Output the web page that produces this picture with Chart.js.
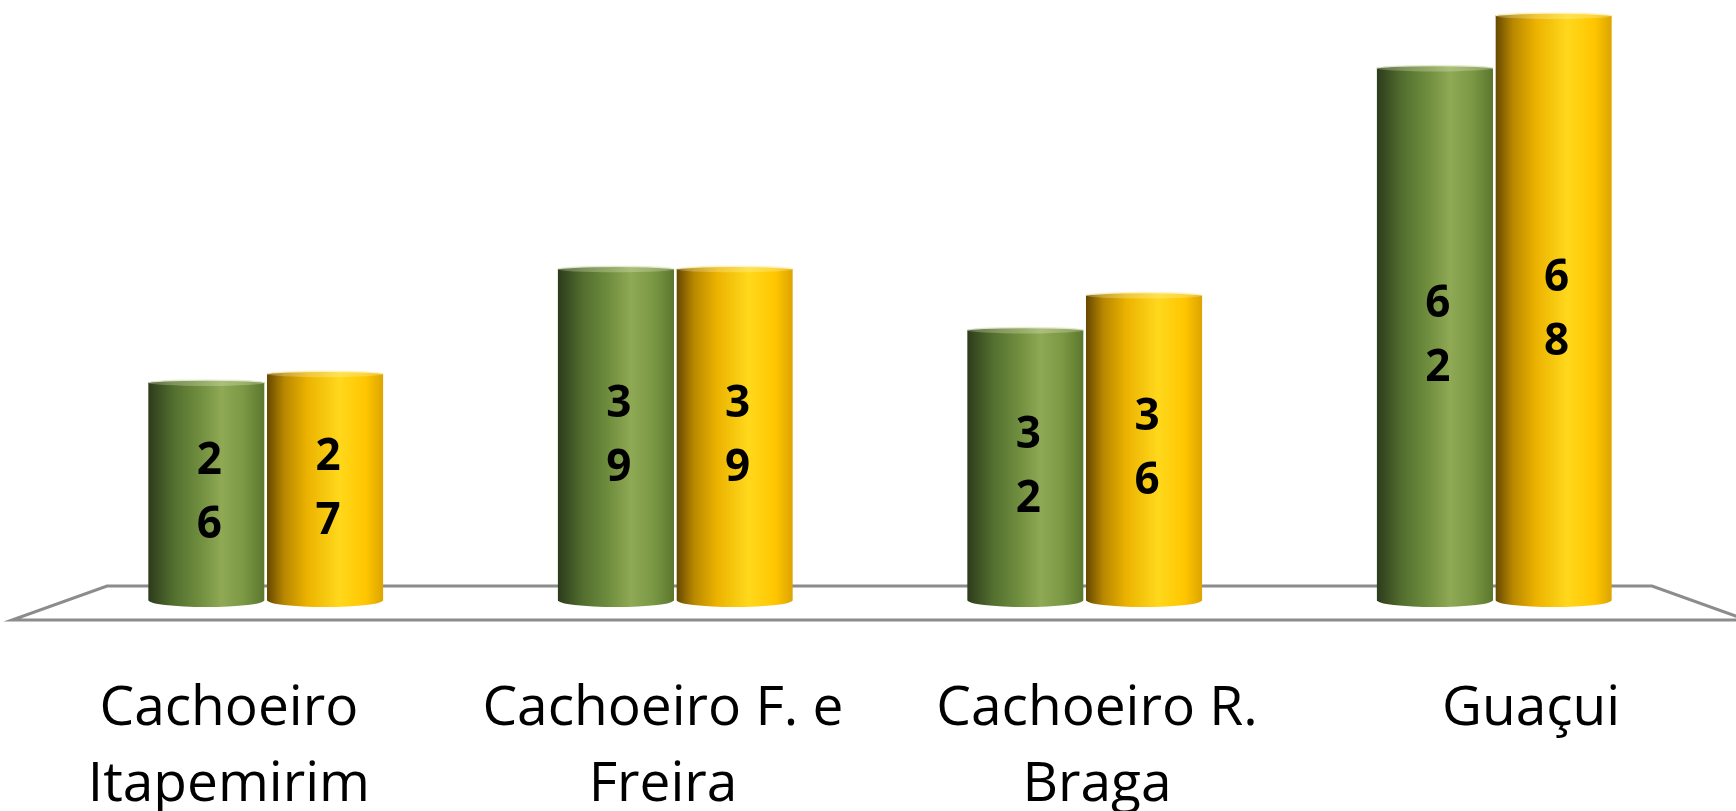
<!DOCTYPE html>
<html>
<head>
<meta charset="utf-8">
<script src="https://cdn.jsdelivr.net/npm/chart.js@4.4.0/dist/chart.umd.min.js"></script>
<style>
html,body{margin:0;padding:0;background:#fff;}
#wrap{width:1736px;height:811px;}
</style>
</head>
<body>
<div id="wrap"><canvas id="chart"></canvas></div>
<script>
const categories=[["Cachoeiro","Itapemirim"],["Cachoeiro F. e","Freira"],["Cachoeiro R.","Braga"],["Guaçui"]];
const seriesGreen=[26,39,32,62];
const seriesGold=[27,39,36,68];
const yMax=68;

const greenStops=[[0,"#2c3b1b"],[0.22,"#536f2f"],[0.45,"#718f3f"],[0.63,"#8fa955"],[0.82,"#7b9844"],[1,"#5b772d"]];
const goldStops=[[0,"#654700"],[0.15,"#b88800"],[0.35,"#ecb300"],[0.62,"#ffd81c"],[0.85,"#ffc600"],[1,"#dca400"]];
const RY_TOP=3,RY_BOT=7;

function grad(ctx,el,stops){
  const g=ctx.createLinearGradient(el.x-el.width/2,0,el.x+el.width/2,0);
  stops.forEach(s=>g.addColorStop(s[0],s[1]));
  return g;
}

function cylPath(ctx,el){
  const rx=el.width/2,l=el.x-rx,r=el.x+rx;
  const top=el.y+RY_TOP,bot=el.base-RY_BOT;
  ctx.moveTo(l,top);
  ctx.ellipse(el.x,top,rx,RY_TOP,0,Math.PI,2*Math.PI,false);
  ctx.lineTo(r,bot);
  ctx.ellipse(el.x,bot,rx,RY_BOT,0,0,Math.PI,false);
  ctx.closePath();
}

const cylinders={
  id:"cylinders",
  beforeDatasetsDraw(chart){
    // floor plane
    const ctx=chart.ctx,a=chart.chartArea;
    const yb=a.bottom-21,yf=a.bottom+13;
    ctx.save();
    ctx.beginPath();
    ctx.moveTo(a.left+46,yb);
    ctx.lineTo(a.right-47,yb);
    ctx.lineTo(a.right+48,yf);
    ctx.lineTo(a.left-49,yf);
    ctx.closePath();
    ctx.strokeStyle="#8c8c8c";
    ctx.lineWidth=3;
    ctx.lineJoin="miter";
    ctx.stroke();
    ctx.restore();
  },
  beforeDatasetDraw(chart,args){
    const ctx=chart.ctx,stops=args.index===0?greenStops:goldStops;
    ctx.save();
    ctx.beginPath();
    args.meta.data.forEach(el=>{
      el.options.backgroundColor=grad(ctx,el,stops);
      cylPath(ctx,el);
    });
    ctx.clip();
  },
  afterDatasetDraw(chart,args){
    const ctx=chart.ctx,stops=args.index===0?greenStops:goldStops;
    ctx.restore();
    args.meta.data.forEach(el=>{
      const rx=el.width/2,cy=el.y+RY_TOP;
      ctx.save();
      ctx.beginPath();
      ctx.ellipse(el.x,cy,rx,RY_TOP,0,0,2*Math.PI);
      ctx.fillStyle=grad(ctx,el,stops);
      ctx.fill();
      ctx.fillStyle="rgba(255,255,235,0.25)";
      ctx.fill();
      ctx.beginPath();
      ctx.ellipse(el.x,cy,rx-0.5,RY_TOP,0,Math.PI,2*Math.PI,false);
      ctx.strokeStyle=args.index===0?"rgba(235,240,215,0.9)":"rgba(255,245,200,0.9)";
      ctx.lineWidth=1.5;
      ctx.stroke();
      ctx.restore();
    });
  },
  afterDatasetsDraw(chart){
    // value labels, one digit per line
    const ctx=chart.ctx;
    ctx.save();
    ctx.font="bold 44px 'Open Sans'";
    ctx.fillStyle="#000";
    ctx.textAlign="center";
    ctx.textBaseline="middle";
    chart.data.datasets.forEach((ds,i)=>{
      chart.getDatasetMeta(i).data.forEach((el,j)=>{
        const digits=String(ds.data[j]).split("");
        const mid=(el.y+el.base)/2,lh=64;
        digits.forEach((d,k)=>{
          ctx.fillText(d,el.x+3,mid+(k-(digits.length-1)/2)*lh);
        });
      });
    });
    ctx.restore();
  },
  afterDraw(chart){
    // category labels sit on the front edge of the floor, spread out a little
    const ctx=chart.ctx,a=chart.chartArea,xs=chart.scales.x;
    const cx=(a.left+a.right)/2;
    ctx.save();
    ctx.font="55px 'Open Sans'";
    ctx.fillStyle="#000";
    ctx.textAlign="center";
    ctx.textBaseline="alphabetic";
    categories.forEach((lines,i)=>{
      const x=cx+(xs.getPixelForValue(i)-cx)*1.06;
      lines.forEach((t,k)=>ctx.fillText(t,x,a.bottom+118+k*76));
    });
    ctx.restore();
  }
};

const chart=new Chart(document.getElementById("chart"),{
  type:"bar",
  data:{
    labels:categories,
    datasets:[
      {data:seriesGreen,backgroundColor:c=>"#7a9640",borderWidth:0,categoryPercentage:0.58,barPercentage:0.98},
      {data:seriesGold,backgroundColor:c=>"#ffc600",borderWidth:0,categoryPercentage:0.58,barPercentage:0.98}
    ]
  },
  options:{
    responsive:true,
    maintainAspectRatio:false,
    animation:false,
    layout:{padding:{left:61,right:37,top:13,bottom:204}},
    scales:{
      x:{display:false},
      y:{display:false,min:0,max:yMax}
    },
    plugins:{legend:{display:false},tooltip:{enabled:false}}
  },
  plugins:[cylinders]
});
</script>
</body>
</html>
